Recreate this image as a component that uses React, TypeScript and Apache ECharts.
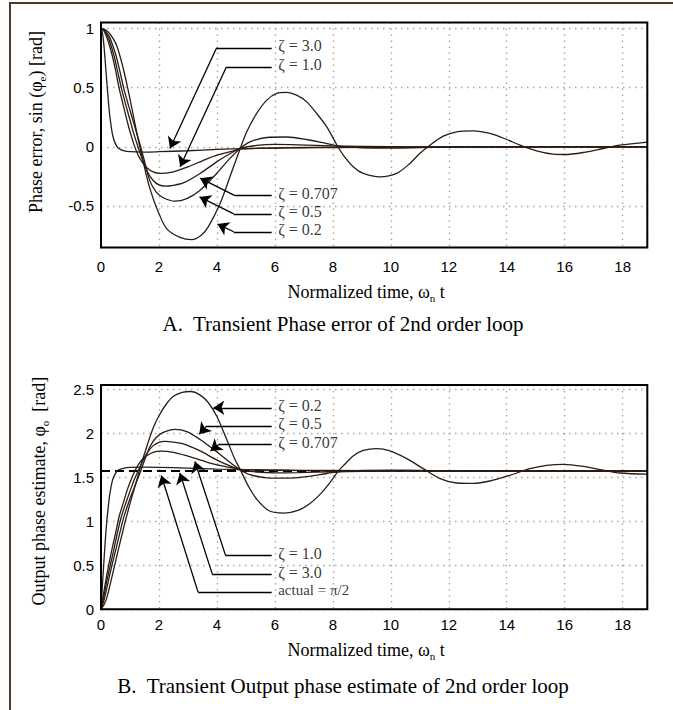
import React, { useEffect, useRef } from 'react';
import * as echarts from 'echarts';

// ---------- Data ----------
// Panel A: sin(phase error) against normalized time  [t, value]
const errZeta02: number[][] = [
  [0, 1], [0.15, 0.99], [0.31, 0.955], [0.54, 0.857], [0.77, 0.66], [1.0, 0.406], [1.23, 0.124],
  [1.46, -0.13], [1.69, -0.355], [1.98, -0.552], [2.27, -0.693], [2.73, -0.765], [3.13, -0.785],
  [3.45, -0.75], [3.7, -0.676], [4.11, -0.479], [4.45, -0.253], [4.74, -0.056], [5.03, 0.127],
  [5.37, 0.282], [5.72, 0.395], [6.06, 0.451], [6.41, 0.46], [6.75, 0.437], [7.1, 0.38],
  [7.44, 0.282], [7.79, 0.169], [8.13, 0.02], [8.36, -0.07], [8.71, -0.17], [9.05, -0.225],
  [9.63, -0.254], [10.2, -0.225], [10.66, -0.14], [11.0, -0.056], [11.35, 0.014], [11.81, 0.09],
  [12.27, 0.127], [12.85, 0.135], [13.42, 0.113], [14.0, 0.062], [14.46, 0.014], [15.03, -0.034],
  [15.6, -0.062], [16.0, -0.065], [16.64, -0.048], [17.33, -0.014], [17.9, 0.014], [18.85, 0.04],
];
const errZeta05: number[][] = [
  [0, 1], [0.1, 0.99], [0.2, 0.965], [0.3, 0.925], [0.4, 0.86], [0.52, 0.77], [0.65, 0.64],
  [0.79, 0.49], [0.95, 0.35], [1.12, 0.21], [1.25, 0.1], [1.37, 0.0], [1.5, -0.12], [1.69, -0.29],
  [1.9, -0.38], [2.15, -0.43], [2.55, -0.459], [2.96, -0.437], [3.42, -0.366], [3.99, -0.225],
  [4.45, -0.098], [4.8, -0.014], [5.14, 0.042], [5.72, 0.079], [6.41, 0.083], [7.1, 0.062],
  [7.79, 0.028], [8.25, 0.006], [9, -0.008], [10, -0.01], [11, -0.007], [12, -0.003], [14, 0], [18.85, 0],
];
const errZeta0707: number[][] = [
  [0, 1], [0.1, 0.985], [0.2, 0.95], [0.3, 0.89], [0.45, 0.77], [0.58, 0.63], [0.71, 0.49],
  [0.86, 0.35], [1.02, 0.21], [1.12, 0.12], [1.25, 0.02], [1.4, -0.09], [1.6, -0.21], [1.8, -0.285],
  [2.0, -0.322], [2.21, -0.332], [2.5, -0.325], [2.84, -0.305], [3.42, -0.225], [3.99, -0.127],
  [4.57, -0.042], [4.8, -0.014], [5.37, 0.012], [6.0, 0.02], [6.8, 0.017], [8, 0.008], [10, 0.001],
  [12, 0], [18.85, 0],
];
const errZeta1: number[][] = [
  [0, 1], [0.1, 0.98], [0.2, 0.925], [0.3, 0.85], [0.39, 0.77], [0.5, 0.65], [0.63, 0.49],
  [0.77, 0.35], [0.91, 0.21], [1.0, 0.13], [1.15, 0.01], [1.3, -0.08], [1.45, -0.14], [1.6, -0.18],
  [1.8, -0.212], [2.04, -0.225], [2.5, -0.211], [3.0, -0.169], [3.5, -0.118], [4.0, -0.07],
  [4.5, -0.039], [4.8, -0.02], [5.5, -0.012], [6.5, -0.007], [8, -0.003], [10, -0.001], [18.85, 0],
];
const errZeta3: number[][] = [
  [0, 1], [0.05, 0.96], [0.1, 0.86], [0.15, 0.71], [0.2, 0.55], [0.25, 0.4], [0.3, 0.27],
  [0.4, 0.1], [0.5, 0.025], [0.6, -0.012], [0.8, -0.034], [1.0, -0.041], [1.5, -0.044],
  [2, -0.041], [3, -0.033], [4, -0.022], [5, -0.015], [6, -0.011], [7, -0.008], [8, -0.006],
  [10, -0.003], [12, -0.002], [15, -0.001], [18.85, 0],
];

// Panel B: output phase estimate against normalized time  [t, value]
const outZeta02: number[][] = [
  [0, 0], [0.1, 0.05], [0.2, 0.13], [0.4, 0.4], [0.6, 0.68], [0.8, 0.95], [1.0, 1.2], [1.2, 1.43],
  [1.4, 1.66], [1.6, 1.87], [1.8, 2.06], [2.0, 2.2], [2.25, 2.33], [2.5, 2.42], [2.8, 2.465],
  [3.1, 2.475], [3.4, 2.44], [3.7, 2.35], [4.0, 2.19], [4.3, 1.96], [4.6, 1.72], [4.8, 1.59],
  [5.1, 1.39], [5.4, 1.24], [5.8, 1.12], [6.3, 1.094], [6.8, 1.125], [7.2, 1.2], [7.6, 1.32],
  [7.9, 1.44], [8.2, 1.575], [8.4, 1.645], [8.71, 1.745], [9.05, 1.805], [9.51, 1.826],
  [9.97, 1.8], [10.55, 1.712], [11.12, 1.598], [11.7, 1.485], [12.27, 1.435], [12.85, 1.43],
  [13.42, 1.458], [14.11, 1.523], [14.8, 1.598], [15.38, 1.636], [15.95, 1.648], [16.64, 1.625],
  [17.33, 1.58], [17.91, 1.549], [18.85, 1.535],
];
const outZeta05: number[][] = [
  [0, 0], [0.1, 0.1], [0.2, 0.24], [0.3, 0.39], [0.4, 0.53], [0.52, 0.69], [0.65, 0.87],
  [0.79, 1.05], [0.95, 1.21], [1.12, 1.36], [1.25, 1.47], [1.37, 1.571], [1.5, 1.69], [1.69, 1.85],
  [1.9, 1.95], [2.15, 2.01], [2.55, 2.045], [2.96, 2.02], [3.42, 1.93], [3.99, 1.79], [4.45, 1.67],
  [4.8, 1.586], [5.14, 1.53], [5.72, 1.494], [6.41, 1.49], [7.1, 1.508], [7.79, 1.543],
  [8.25, 1.565], [9, 1.579], [10, 1.581], [11, 1.578], [12, 1.574], [14, 1.571], [18.85, 1.571],
];
const outZeta0707: number[][] = [
  [0, 0], [0.1, 0.15], [0.2, 0.32], [0.3, 0.47], [0.45, 0.69], [0.58, 0.89], [0.71, 1.06],
  [0.86, 1.21], [1.02, 1.36], [1.12, 1.45], [1.25, 1.55], [1.4, 1.66], [1.6, 1.78], [1.8, 1.86],
  [2.0, 1.898], [2.21, 1.908], [2.5, 1.9], [2.84, 1.88], [3.42, 1.8], [3.99, 1.698], [4.57, 1.613],
  [4.8, 1.585], [5.37, 1.56], [6.0, 1.551], [6.8, 1.554], [8, 1.563], [10, 1.57], [18.85, 1.571],
];
const outZeta1: number[][] = [
  [0, 0], [0.1, 0.2], [0.2, 0.39], [0.3, 0.56], [0.39, 0.7], [0.5, 0.86], [0.63, 1.06],
  [0.77, 1.21], [0.91, 1.36], [1.0, 1.44], [1.15, 1.56], [1.3, 1.65], [1.45, 1.71], [1.6, 1.75],
  [1.8, 1.784], [2.04, 1.798], [2.5, 1.784], [3.0, 1.741], [3.5, 1.689], [4.0, 1.641], [4.5, 1.61],
  [4.8, 1.591], [5.5, 1.583], [6.5, 1.578], [8, 1.574], [10, 1.572], [18.85, 1.571],
];
const outZeta3: number[][] = [
  [0, 0], [0.05, 0.28], [0.1, 0.54], [0.15, 0.79], [0.2, 1.0], [0.25, 1.16], [0.3, 1.3],
  [0.4, 1.47], [0.5, 1.545], [0.6, 1.583], [0.8, 1.605], [1.0, 1.612], [1.5, 1.615], [2, 1.613],
  [3, 1.605], [4, 1.594], [5, 1.586], [6, 1.582], [7, 1.579], [8, 1.577], [10, 1.574],
  [12, 1.573], [15, 1.572], [18.85, 1.571],
];
// actual phase = pi/2 (dashed reference)
const actualPhase: number[][] = [[0, 1.571], [18.85, 1.571]];

// axis extents / tick steps
const xMax = 18.85;
const xStep = 2;
const errRange = [-0.85, 1.05];
const outRange = [0, 2.55];
const yStep = 0.5;

// callouts (data coordinates): label text, level of the horizontal leader, corner t, arrow tip
const calloutT = 5.89;
const errCallouts = [
  { text: 'ζ = 3.0', y: 0.837, corner: 3.99, tip: [2.38, -0.014] },
  { text: 'ζ = 1.0', y: 0.676, corner: 4.33, tip: [2.73, -0.169] },
  { text: 'ζ = 0.707', y: -0.412, corner: 4.62, tip: [3.42, -0.265] },
  { text: 'ζ = 0.5', y: -0.566, corner: 4.58, tip: [3.4, -0.423] },
  { text: 'ζ = 0.2', y: -0.718, corner: 4.58, tip: [4.02, -0.653] },
];
const outCallouts = [
  { text: 'ζ = 0.2', y: 2.29, corner: null as number | null, tip: [3.875, 2.29] },
  { text: 'ζ = 0.5', y: 2.085, corner: 3.65, tip: [3.39, 1.99] },
  { text: 'ζ = 0.707', y: 1.87, corner: 4.05, tip: [3.78, 1.8] },
  { text: 'ζ = 1.0', y: 0.61, corner: 4.3, tip: [3.24, 1.68] },
  { text: 'ζ = 3.0', y: 0.4, corner: 3.84, tip: [2.72, 1.55] },
  { text: 'actual = π/2', y: 0.195, corner: 3.35, tip: [2.08, 1.52] },
];

const SERIF = '"Liberation Serif", "Times New Roman", Times, serif';
const SANS = '"Liberation Sans", Arial, Helvetica, sans-serif';
const CURVE = '#2a1c14';
const GRIDLINE = { color: '#a6a6a6', width: 1.4, type: [1.5, 4.5] };

function curve(data: number[][], gi: number) {
  return {
    type: 'line', xAxisIndex: gi, yAxisIndex: gi, data, showSymbol: false, symbol: 'none',
    smooth: 0.3, silent: true, z: 3, lineStyle: { color: CURVE, width: 1.3 },
  };
}

function callouts(list: { text: string; y: number; corner: number | null; tip: number[] }[], gi: number) {
  const flat = list.filter((c) => c.corner != null).map((c) => ({ coords: [[calloutT, c.y], [c.corner as number, c.y]] }));
  const diag = list.map((c) => ({ coords: [[c.corner ?? calloutT, c.y], c.tip] }));
  const labels = list.map((c) => ({
    value: [calloutT, c.y], name: c.text,
    label: c.text.startsWith('actual') ? { fontSize: 15 } : {},
  }));
  const ls = { color: '#000', width: 1.3, opacity: 1, curveness: 0 };
  return [
    { type: 'lines', coordinateSystem: 'cartesian2d', xAxisIndex: gi, yAxisIndex: gi, data: flat, symbol: 'none', lineStyle: ls, silent: true, z: 4 },
    { type: 'lines', coordinateSystem: 'cartesian2d', xAxisIndex: gi, yAxisIndex: gi, data: diag, symbol: ['none', 'arrow'], symbolSize: [7, 11], lineStyle: ls, silent: true, z: 4 },
    {
      type: 'scatter', xAxisIndex: gi, yAxisIndex: gi, data: labels, symbolSize: 1, silent: true, z: 5,
      itemStyle: { color: 'rgba(0,0,0,0)' },
      label: { show: true, position: 'right', distance: 6, offset: [0, -2], formatter: (p: any) => p.name, fontFamily: SERIF, fontSize: 16, color: '#000' },
    },
  ];
}

const rich = {
  m: { fontFamily: SERIF, fontSize: 18, lineHeight: 22, color: '#000' },
  s: { fontFamily: SERIF, fontSize: 11, lineHeight: 11, verticalAlign: 'bottom', color: '#000' },
};

function xAxis(gi: number, gap: number, margin: number) {
  return {
    gridIndex: gi, type: 'value', min: 0, max: xMax, interval: xStep,
    axisLine: { show: false }, axisTick: { show: false },
    axisLabel: { color: '#000', fontFamily: SANS, fontSize: 15, margin, showMaxLabel: false },
    splitLine: { show: true, lineStyle: GRIDLINE },
    name: '{m|Normalized time, ω}{s|n}{m| t}', nameLocation: 'middle', nameGap: gap,
    nameTextStyle: { rich, padding: [0, 16, 0, 0] },
  };
}

function yAxis(gi: number, range: number[], name: string, gap: number, pad: number) {
  return {
    gridIndex: gi, type: 'value', min: range[0], max: range[1], splitNumber: 4,
    minInterval: yStep, maxInterval: yStep,
    axisLine: { show: false }, axisTick: { show: false },
    axisLabel: { color: '#000', fontFamily: SANS, fontSize: 15, margin: 7, showMinLabel: range[0] === 0, showMaxLabel: false },
    splitLine: { show: true, lineStyle: GRIDLINE },
    name, nameLocation: 'middle', nameRotate: 90, nameGap: gap,
    nameTextStyle: { rich, padding: [0, 0, 0, pad] },
  };
}

export default function App() {
  const ref = useRef<HTMLDivElement>(null);
  useEffect(() => {
    if (!ref.current) return;
    const chart = echarts.init(ref.current, undefined, { renderer: 'svg' });
    const option: any = {
      animation: false,
      backgroundColor: '#fff',
      grid: [
        { left: 101, top: 22.6, width: 546.3, height: 224.8, show: true, borderColor: '#000', borderWidth: 2, backgroundColor: 'transparent', z: 6 },
        { left: 101, top: 384.9, width: 546.3, height: 224.4, show: true, borderColor: '#000', borderWidth: 2, backgroundColor: 'transparent', z: 6 },
      ],
      xAxis: [xAxis(0, 34, 12), xAxis(1, 30, 8)],
      yAxis: [
        yAxis(0, errRange, '{m|Phase error, sin (φ}{s|e}{m|) [rad]}', 54, 26),
        yAxis(1, outRange, '{m|Output phase estimate, φ}{s|o}{m|  [rad]}', 51, 12),
      ],
      graphic: [
        { type: 'rect', silent: true, shape: { x: 10, y: 3, width: 720, height: 760 }, style: { fill: 'none', stroke: '#4b3a2e', lineWidth: 2 } },
        {
          type: 'text', x: 343, y: 324, silent: true,
          style: { text: 'A.\u00a0 Transient Phase error of 2nd order loop', fontFamily: SERIF, fontSize: 21, fill: '#000', align: 'center', verticalAlign: 'middle', textAlign: 'center', textVerticalAlign: 'middle' },
        },
        {
          type: 'text', x: 343, y: 686, silent: true,
          style: { text: 'B.\u00a0 Transient Output phase estimate of 2nd order loop', fontFamily: SERIF, fontSize: 21, fill: '#000', align: 'center', verticalAlign: 'middle', textAlign: 'center', textVerticalAlign: 'middle' },
        },
      ],
      series: [
        curve(errZeta02, 0), curve(errZeta05, 0), curve(errZeta0707, 0), curve(errZeta1, 0), curve(errZeta3, 0),
        ...callouts(errCallouts, 0),
        {
          type: 'line', xAxisIndex: 1, yAxisIndex: 1, data: actualPhase, showSymbol: false, symbol: 'none', silent: true, z: 2,
          lineStyle: { color: '#000', width: 2, type: [9, 5] },
        },
        curve(outZeta02, 1), curve(outZeta05, 1), curve(outZeta0707, 1), curve(outZeta1, 1), curve(outZeta3, 1),
        ...callouts(outCallouts, 1),
      ],
    };
    chart.setOption(option);
    return () => chart.dispose();
  }, []);
  return <div ref={ref} style={{ position: 'absolute', left: 0, top: 0, width: 673, height: 710 }} />;
}
